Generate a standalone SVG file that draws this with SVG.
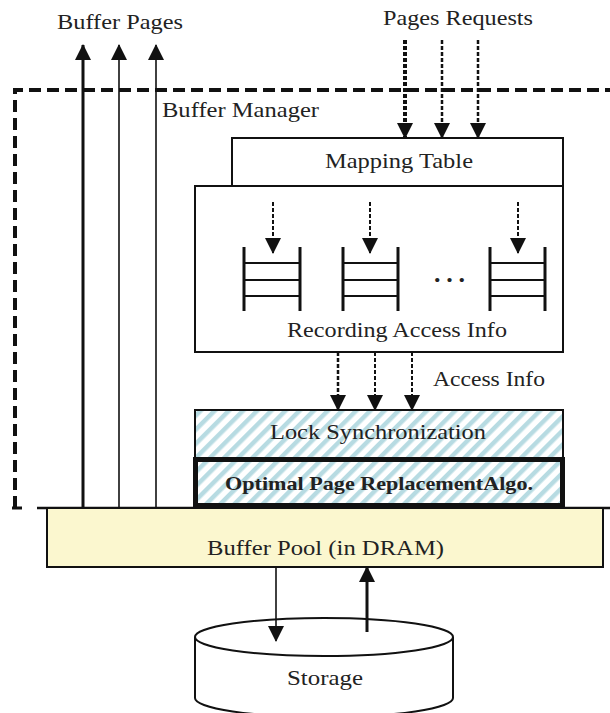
<svg xmlns="http://www.w3.org/2000/svg" width="610" height="713" viewBox="0 0 610 713">
<defs>
<style>
text{font-family:"Liberation Serif","Times New Roman",serif;fill:#222}
.box{fill:#fff;stroke:#111;stroke-width:2}
.ln{stroke:#111;fill:none}
.dot{stroke:#111;fill:none;stroke-dasharray:4 2}
</style>
<marker id="ah" markerUnits="userSpaceOnUse" markerWidth="16" markerHeight="16" viewBox="0 0 16 16" refX="15" refY="8" orient="auto">
<path d="M0,0 L16,8 L0,16 Z" fill="#111"/>
</marker>
<pattern id="hatch" patternUnits="userSpaceOnUse" width="10" height="10" patternTransform="rotate(45)">
<rect width="10" height="10" fill="#fff"/>
<rect width="4.5" height="10" fill="#b7dbe2"/>
</pattern>
</defs>
<rect width="610" height="713" fill="#fff"/>

<g id="buffer-manager">
<path d="M15,508 V90 H610" fill="none" stroke="#111" stroke-width="4" stroke-dasharray="12 6"/>
<line x1="12" y1="508" x2="22" y2="508" stroke="#111" stroke-width="3"/>
<text x="162" y="117" font-size="21" textLength="157" lengthAdjust="spacingAndGlyphs">Buffer Manager</text>
</g>

<g id="buffer-pool">
<line x1="37" y1="508" x2="610" y2="508" stroke="#111" stroke-width="2.5"/>
<rect x="47" y="508" width="556" height="59" fill="#fbf7cf" stroke="#111" stroke-width="2"/>
<text x="207" y="555" font-size="21" textLength="237" lengthAdjust="spacingAndGlyphs">Buffer Pool (in DRAM)</text>
</g>

<g id="mapping-table">
<rect class="box" x="232" y="138" width="331" height="48"/>
<text x="325" y="168" font-size="22" textLength="148" lengthAdjust="spacingAndGlyphs">Mapping Table</text>
</g>

<g id="recording-access-info">
<rect class="box" x="195" y="186" width="368" height="166"/>
<g stroke="#111" stroke-width="3">
<line x1="244" y1="247" x2="244" y2="311"/><line x1="300" y1="247" x2="300" y2="311"/>
<line x1="343" y1="247" x2="343" y2="311"/><line x1="398" y1="247" x2="398" y2="311"/>
<line x1="490" y1="247" x2="490" y2="311"/><line x1="545" y1="247" x2="545" y2="311"/>
</g>
<g stroke="#111" stroke-width="2">
<line x1="244" y1="263" x2="300" y2="263"/><line x1="244" y1="280" x2="300" y2="280"/><line x1="244" y1="296" x2="300" y2="296"/>
<line x1="343" y1="263" x2="398" y2="263"/><line x1="343" y1="280" x2="398" y2="280"/><line x1="343" y1="296" x2="398" y2="296"/>
<line x1="490" y1="263" x2="545" y2="263"/><line x1="490" y1="280" x2="545" y2="280"/><line x1="490" y1="296" x2="545" y2="296"/>
</g>
<text x="434" y="282" font-size="26" font-weight="bold" textLength="31" lengthAdjust="spacing">...</text>
<text x="287" y="337" font-size="22" textLength="220" lengthAdjust="spacingAndGlyphs">Recording Access Info</text>
</g>

<g id="lock-synchronization">
<rect x="195" y="410" width="368" height="48" fill="url(#hatch)" stroke="#111" stroke-width="2"/>
<text x="270" y="439" font-size="21" textLength="216" lengthAdjust="spacingAndGlyphs">Lock Synchronization</text>
</g>

<g id="optimal-page-replacement">
<rect x="195.5" y="459.5" width="367" height="46" fill="url(#hatch)" stroke="#111" stroke-width="5"/>
<text x="225" y="490" font-size="19" font-weight="bold" fill="#111" textLength="308" lengthAdjust="spacingAndGlyphs">Optimal Page ReplacementAlgo.</text>
</g>

<g id="storage">
<path d="M195,637 V698 A129,19 0 0 0 453,698 V637" fill="#fff" stroke="#111" stroke-width="2"/>
<ellipse cx="324" cy="637" rx="129" ry="19" fill="#fff" stroke="#111" stroke-width="2"/>
<text x="287" y="685" font-size="21" textLength="76" lengthAdjust="spacingAndGlyphs">Storage</text>
</g>

<g id="labels">
<text x="57" y="29" font-size="21" textLength="126" lengthAdjust="spacingAndGlyphs">Buffer Pages</text>
<text x="383" y="25" font-size="21" textLength="150" lengthAdjust="spacingAndGlyphs">Pages Requests</text>
<text x="433" y="386" font-size="21" textLength="112" lengthAdjust="spacingAndGlyphs">Access Info</text>
</g>

<g id="connectors">
<line class="ln" x1="83" y1="508" x2="83" y2="45" stroke-width="3" marker-end="url(#ah)"/>
<line class="ln" x1="119" y1="508" x2="119" y2="45" stroke-width="1.6" marker-end="url(#ah)"/>
<line class="ln" x1="156" y1="508" x2="156" y2="45" stroke-width="1.6" marker-end="url(#ah)"/>
<line class="dot" x1="405" y1="40" x2="405" y2="138" stroke-width="4" marker-end="url(#ah)"/>
<line class="dot" x1="442" y1="40" x2="442" y2="138" stroke-width="2.5" marker-end="url(#ah)"/>
<line class="dot" x1="478" y1="40" x2="478" y2="138" stroke-width="2.5" marker-end="url(#ah)"/>
<line class="dot" x1="273" y1="202" x2="273" y2="253" stroke-width="2" marker-end="url(#ah)"/>
<line class="dot" x1="370" y1="202" x2="370" y2="253" stroke-width="2" marker-end="url(#ah)"/>
<line class="dot" x1="518" y1="202" x2="518" y2="253" stroke-width="2" marker-end="url(#ah)"/>
<line class="dot" x1="338" y1="352" x2="338" y2="410" stroke-width="2.5" marker-end="url(#ah)"/>
<line class="dot" x1="375" y1="352" x2="375" y2="410" stroke-width="2" marker-end="url(#ah)"/>
<line class="dot" x1="412" y1="352" x2="412" y2="410" stroke-width="2" marker-end="url(#ah)"/>
<line class="ln" x1="276" y1="567" x2="276" y2="641" stroke-width="1.6" marker-end="url(#ah)"/>
<line class="ln" x1="367" y1="632" x2="367" y2="567" stroke-width="3" marker-end="url(#ah)"/>
</g>
</svg>
